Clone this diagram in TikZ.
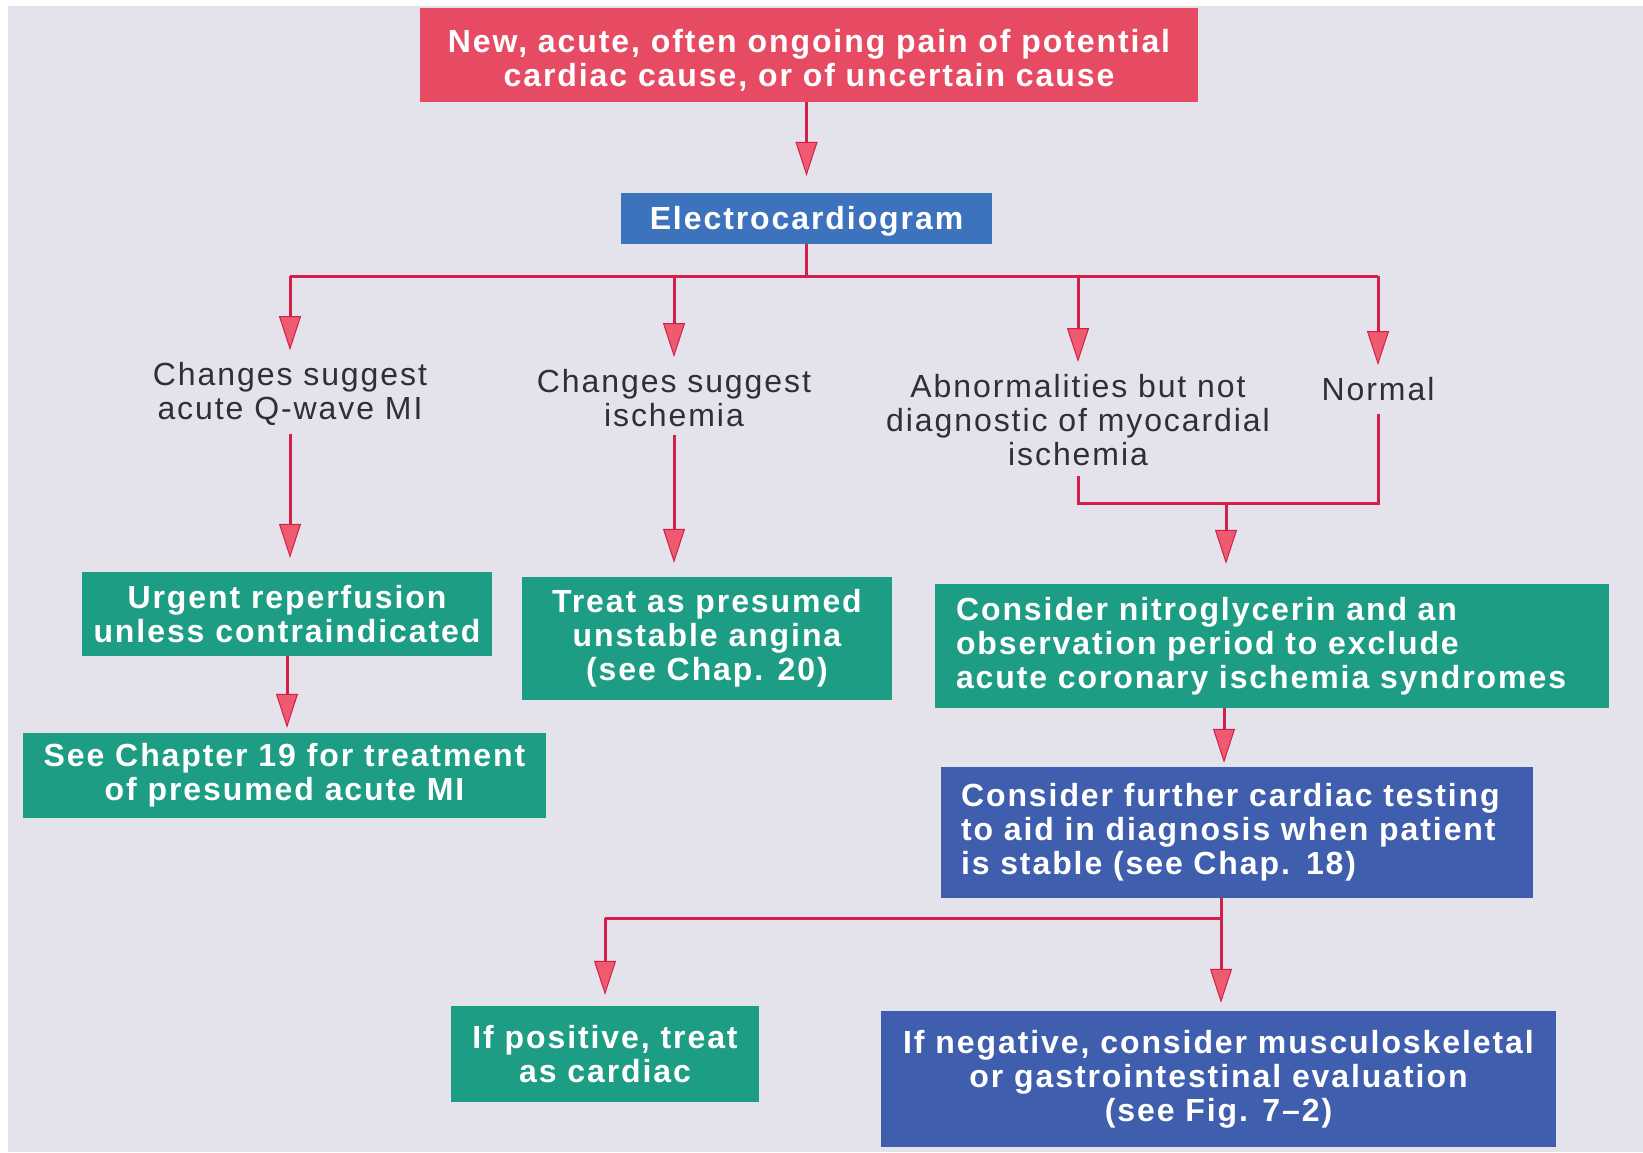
\documentclass[tikz,border=0pt]{standalone}
\usepackage{fontspec}
\setmainfont{Liberation Sans}[LetterSpace=6]
\usetikzlibrary{arrows.meta}
\definecolor{bg}{HTML}{E4E2EA}
\definecolor{redbox}{HTML}{E64B63}
\definecolor{bluebox}{HTML}{3D72BD}
\definecolor{bluebox2}{HTML}{3F5EAD}
\definecolor{greenbox}{HTML}{1D9D84}
\definecolor{linecol}{HTML}{D2204A}
\definecolor{tipcol}{HTML}{EE5A70}
\definecolor{labcol}{HTML}{2F2F35}
\begin{document}
\begin{tikzpicture}[x=1pt,y=-1pt,
  box/.style={fill=#1, text=white, font=\fontsize{32}{34}\selectfont\bfseries, align=center, inner sep=0pt},
  lbox/.style={fill=#1, text=white, font=\fontsize{32}{34}\selectfont\bfseries, align=left, inner ysep=0pt},
  lab/.style={text=labcol, font=\fontsize{32}{34}\selectfont, align=center, inner sep=2pt},
  conn/.style={draw=linecol, line width=3pt},
  arr/.style={conn, -{Triangle[length=34pt,width=22pt,fill=tipcol,line width=1pt]}}]
\useasboundingbox (0,0) rectangle (1643,1152);
\fill[white] (0,0) rectangle (1643,1152);
\fill[bg] (8,6) rectangle (1643,1152);

% boxes
\node[box=redbox, minimum width=778pt, minimum height=94pt] (top) at (809,55)
  {\raisebox{-8pt}[\height][\depth]{\begin{tabular}{@{}c@{}}New, acute, often ongoing pain of potential\\cardiac cause, or of uncertain cause\end{tabular}}};
\node[box=bluebox, minimum width=371pt, minimum height=51pt] (ecg) at (806.5,218.5)
  {\raisebox{-3pt}[\height][\depth]{Electrocardiogram}};

\node[lab] (qw) at (290,394) {Changes suggest\\acute Q-wave MI};
\node[lab] (isch) at (674,398) {Changes suggest\\ischemia};
\node[lab] (abn) at (1078,420) {Abnormalities but not\\diagnostic of myocardial\\ischemia};
\node[lab] (normal) at (1378,389) {Normal};

\node[box=greenbox, minimum width=410pt, minimum height=84pt] (urgent) at (287,614)
  {Urgent reperfusion\\unless contraindicated};
\node[box=greenbox, minimum width=523pt, minimum height=85pt] (ch19) at (284.5,775.5)
  {See Chapter 19 for treatment\\of presumed acute MI};
\node[box=greenbox, minimum width=370pt, minimum height=123pt] (treat) at (707,638.5)
  {Treat as presumed\\unstable angina\\(see Chap. 20)};
\node[lbox=greenbox, text width=632pt, inner xsep=21pt, minimum height=124pt] (nitro) at (1272,646)
  {Consider nitroglycerin and an\\observation period to exclude\\acute coronary ischemia syndromes};
\node[lbox=bluebox2, text width=552pt, inner xsep=20pt, minimum height=131pt] (further) at (1237,832.5)
  {Consider further cardiac testing\\to aid in diagnosis when patient\\is stable (see Chap. 18)};
\node[box=greenbox, minimum width=308pt, minimum height=96pt] (positive) at (605,1054)
  {If positive, treat\\as cardiac};
\node[box=bluebox2, minimum width=675pt, minimum height=136pt] (negative) at (1218.5,1079)
  {If negative, consider musculoskeletal\\or gastrointestinal evaluation\\(see Fig. 7--2)};

% connectors
\coordinate (bus) at (806,276);
\coordinate (merge) at (1226,503);
\coordinate (c2) at (1224,0);
\coordinate (bus2) at (1221,918);

\draw[arr, shorten >=17pt] (top.south-|ecg.north) -- (ecg.north);
\draw[conn] (ecg.south-|bus) -- (bus);
\draw[conn] (qw.north|-bus) -- (normal.north|-bus);
\draw[arr, shorten >=10pt] (qw.north|-bus) -- (qw.north);
\draw[arr, shorten >=10pt] (isch.north|-bus) -- (isch.north);
\draw[arr, shorten >=10pt] (abn.north|-bus) -- (abn.north);
\draw[arr, shorten >=10pt] (normal.north|-bus) -- (normal.north);

\draw[arr, shorten <=6pt, shorten >=14pt] (qw.south) -- (qw.south|-urgent.north);
\draw[arr, shorten <=6pt, shorten >=14pt] (isch.south) -- (isch.south|-treat.north);
\draw[conn, shorten <=8pt, shorten >=11pt] (abn.south) |- (normal.south|-merge) -- (normal.south);
\draw[arr, shorten >=20pt] (merge) -- (merge|-nitro.north);

\draw[arr, shorten >=5pt] (urgent.south) -- (urgent.south|-ch19.north);
\draw[arr, shorten >=4pt] (nitro.south-|c2) -- (further.north-|c2);

\draw[conn] (further.south-|bus2) -- (bus2);
\draw[conn] (bus2) -- (positive.north|-bus2);
\draw[arr, shorten >=11pt] (positive.north|-bus2) -- (positive.north);
\draw[arr, shorten >=8pt] (bus2) -- (bus2|-negative.north);
\end{tikzpicture}
\end{document}
